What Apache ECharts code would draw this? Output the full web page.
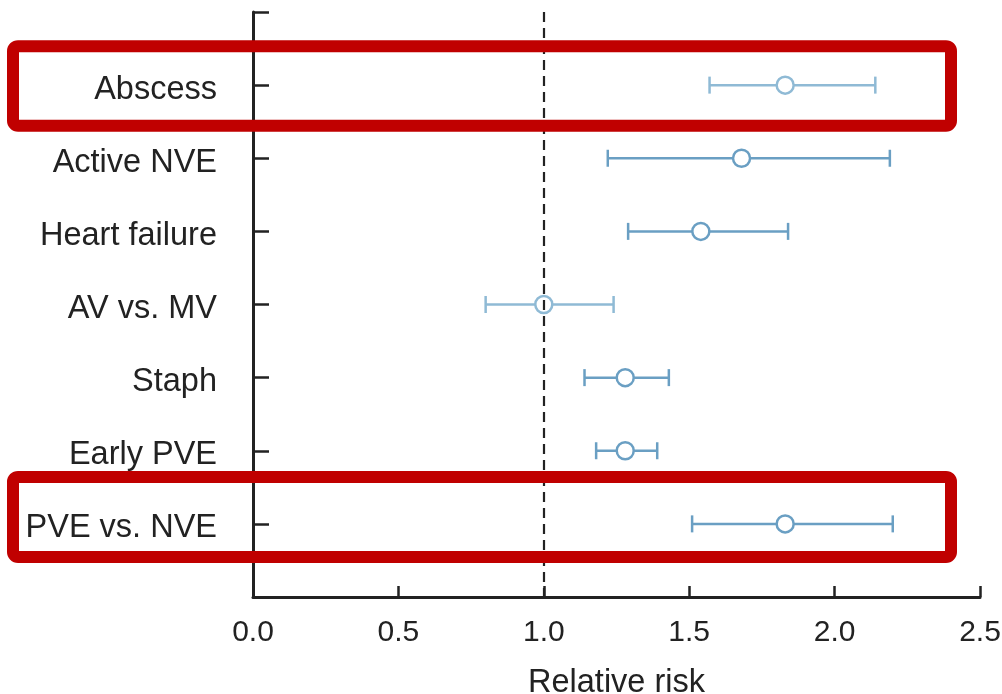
<!DOCTYPE html>
<html>
<head>
<meta charset="utf-8">
<script src="https://cdn.jsdelivr.net/npm/echarts@6/dist/echarts.min.js"></script>
<style>html,body{margin:0;padding:0;background:#fff}#c{width:1002px;height:694px}</style>
</head>
<body>
<div id="c"></div>
<script>
const categories = ['Abscess', 'Active NVE', 'Heart failure', 'AV vs. MV', 'Staph', 'Early PVE', 'PVE vs. NVE'];
const estimates = [1.83, 1.68, 1.54, 1.00, 1.28, 1.28, 1.83];
const lowerCI = [1.57, 1.22, 1.29, 0.80, 1.14, 1.18, 1.51];
const upperCI = [2.14, 2.19, 1.84, 1.24, 1.43, 1.39, 2.20];
const xTicks = ['0.0', '0.5', '1.0', '1.5', '2.0', '2.5'];
const highlighted = ['Abscess', 'PVE vs. NVE'];
const lightRows = ['Abscess', 'AV vs. MV'];

const LIGHT = '#8fbad5';
const DARK = '#6a9fc3';
const FONT = 'Liberation Sans, Arial, Helvetica, sans-serif';

const chart = echarts.init(document.getElementById('c'));

const ciData = categories.map((c, i) => [lowerCI[i], upperCI[i], i]);
const ptData = categories.map((c, i) => ({
  value: [estimates[i], i],
  itemStyle: { borderColor: lightRows.includes(c) ? LIGHT : DARK }
}));

const option = {
  animation: false,
  backgroundColor: '#fff',
  grid: { left: 253, right: 22, top: 12, bottom: 97, containLabel: false, outerBoundsMode: 'none' },
  xAxis: {
    type: 'value', min: 0, max: 2.5, interval: 0.5,
    name: 'Relative risk', nameLocation: 'middle', nameGap: 70,
    nameTextStyle: { fontFamily: FONT, fontSize: 32.5, color: '#222' },
    axisLine: { show: true, onZero: false, lineStyle: { color: '#222', width: 3 } },
    axisTick: { show: true, inside: true, length: 11, lineStyle: { color: '#222', width: 2.5 } },
    axisLabel: { margin: 21, fontFamily: FONT, fontSize: 30, color: '#222',
      formatter: v => xTicks[Math.round(v / 0.5)] },
    splitLine: { show: false }
  },
  yAxis: {
    type: 'value', min: -1, max: 7, interval: 1, inverse: true,
    axisLine: { show: true, onZero: false, lineStyle: { color: '#222', width: 3 } },
    axisTick: { show: true, inside: true, length: 16, lineStyle: { color: '#222', width: 2.5 } },
    axisLabel: { margin: 36, fontFamily: FONT, fontSize: 32.5, color: '#222',
      formatter: v => (v >= 0 && v < categories.length) ? '{a|' + categories[v] + '}' : '',
      rich: { a: { fontFamily: FONT, fontSize: 32.5, color: '#222', padding: [9, 0, 0, 0] } } },
    splitLine: { show: false }
  },
  series: [
    {
      type: 'custom',
      name: 'CI',
      data: ciData,
      encode: { x: [0, 1], y: 2 },
      renderItem: (params, api) => {
        const lo = api.coord([api.value(0), api.value(2)]);
        const hi = api.coord([api.value(1), api.value(2)]);
        const col = lightRows.includes(categories[api.value(2)]) ? LIGHT : DARK;
        const h = 8.5;
        const st = { stroke: col, lineWidth: 2.5, fill: null };
        return {
          type: 'group',
          children: [
            { type: 'line', shape: { x1: lo[0], y1: lo[1], x2: hi[0], y2: hi[1] }, style: st },
            { type: 'line', shape: { x1: lo[0], y1: lo[1] - h, x2: lo[0], y2: lo[1] + h }, style: st },
            { type: 'line', shape: { x1: hi[0], y1: hi[1] - h, x2: hi[0], y2: hi[1] + h }, style: st }
          ]
        };
      },
      markLine: {
        silent: true, symbol: ['none', 'none'],
        label: { show: false },
        lineStyle: { color: '#222', type: [10, 6], width: 2.2 },
        data: [{ xAxis: 1.0 }]
      },
      z: 2
    },
    {
      type: 'scatter',
      name: 'Estimate',
      data: ptData,
      symbol: 'circle',
      symbolSize: 17,
      itemStyle: { color: '#fff', borderWidth: 2.5, opacity: 1 },
      z: 3
    }
  ]
};
chart.setOption(option);

function drawBoxes() {
  const boxes = [];
  highlighted.forEach(name => {
    const idx = categories.indexOf(name);
    const yc = chart.convertToPixel({ gridIndex: 0 }, [0, idx])[1];
    const top = idx === 0 ? yc - 39 : yc - 47;
    const bot = idx === 0 ? yc + 40.5 : yc + 33;
    boxes.push({
      type: 'rect',
      shape: { x: 13, y: top, width: 938, height: bot - top, r: 5 },
      style: { fill: 'none', stroke: '#c00000', lineWidth: 12 },
      z: 100, silent: true
    });
  });
  chart.setOption({ graphic: boxes });
}
drawBoxes();
</script>
</body>
</html>
